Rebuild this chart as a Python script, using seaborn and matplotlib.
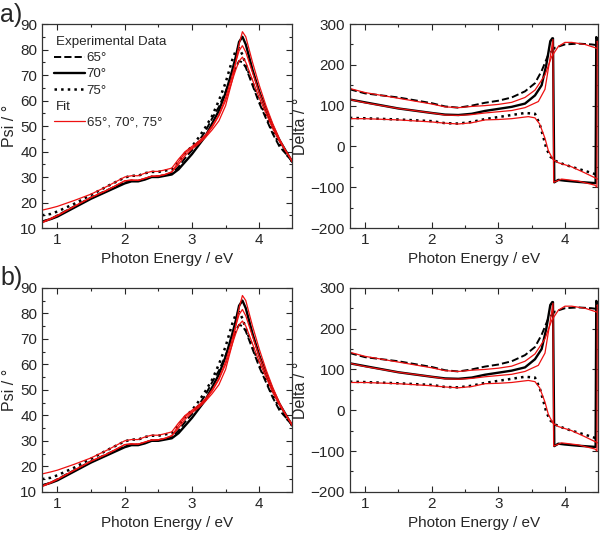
import pandas as pd
import matplotlib
matplotlib.use('Agg')
import matplotlib.pyplot as plt
from matplotlib.lines import Line2D
from matplotlib.ticker import MultipleLocator
import seaborn as sns

# Psi data (photon energy / eV vs Psi / deg)
psi_e = [0.77, 0.9, 1.0, 1.25, 1.5, 1.75, 2.0, 2.1, 2.2, 2.3, 2.4, 2.5, 2.6, 2.7, 2.8, 2.9,
         3.0, 3.1, 3.2, 3.3, 3.4, 3.5, 3.6, 3.65, 3.7, 3.75, 3.8, 3.9, 4.0, 4.1, 4.2, 4.3, 4.4, 4.49]
psi_exp65 = [12.5, 13.5, 15.0, 18.5, 22.0, 25.0, 28.0, 28.6, 28.5, 29.3, 30.2, 30.3, 30.8, 31.5, 34.0, 37.5,
             40.5, 44.0, 48.0, 53.0, 57.5, 63.5, 70.0, 73.0, 75.5, 75.0, 73.0, 66.0, 59.0, 53.0, 47.0, 42.0, 39.0, 36.0]
psi_exp70 = [12.5, 13.5, 14.5, 18.0, 21.5, 24.5, 27.5, 28.3, 28.3, 29.0, 30.0, 30.0, 30.5, 31.0, 33.0, 36.0,
             39.0, 42.5, 46.0, 51.0, 56.0, 63.0, 72.0, 77.0, 83.0, 85.0, 82.0, 72.0, 63.5, 56.5, 50.0, 44.5, 40.0, 36.0]
psi_exp75 = [15.0, 15.5, 16.5, 19.5, 23.0, 26.5, 29.8, 30.5, 30.5, 31.5, 32.0, 32.0, 32.5, 33.0, 36.0, 39.5,
             42.0, 45.5, 49.5, 54.0, 60.0, 67.0, 76.0, 79.5, 80.5, 78.0, 74.0, 67.0, 60.0, 54.0, 48.0, 43.0, 39.0, 36.0]
psi_fit65 = [12.0, 13.5, 14.8, 18.5, 22.0, 25.0, 28.5, 28.8, 28.7, 29.5, 30.3, 30.4, 31.0, 32.0, 36.0, 39.5,
             41.5, 43.5, 46.0, 49.5, 54.0, 60.0, 68.0, 72.0, 75.5, 77.0, 75.0, 68.0, 61.0, 55.0, 49.0, 44.0, 40.0, 36.5]
psi_fit70 = [12.3, 13.8, 15.0, 18.5, 22.0, 25.0, 28.5, 28.8, 28.7, 29.5, 30.3, 30.4, 31.0, 32.0, 35.0, 38.5,
             41.0, 43.0, 45.5, 48.5, 52.0, 58.0, 68.0, 75.0, 82.0, 87.0, 85.0, 75.0, 66.0, 58.0, 51.0, 45.0, 40.0, 36.0]
psi_fit75 = [17.0, 17.8, 18.5, 20.8, 23.3, 26.5, 30.0, 30.5, 30.5, 31.5, 32.2, 32.2, 32.8, 33.5, 37.0, 40.0,
             42.0, 44.0, 46.5, 50.0, 54.5, 61.0, 70.0, 75.0, 79.5, 81.5, 79.0, 71.0, 63.0, 56.5, 50.0, 44.5, 40.0, 36.0]

# Delta data (vertical jumps = phase wrap)
d65_e = [0.77, 1.0, 1.5, 2.0, 2.2, 2.4, 2.6, 2.8, 3.0, 3.2, 3.4, 3.55, 3.65, 3.75, 3.85, 4.0, 4.2, 4.4, 4.49]
d65 = [140, 130, 120, 106, 98, 95, 100, 107, 112, 120, 135, 155, 185, 225, 242, 250, 252, 250, 248]
d70_e = [0.77, 1.0, 1.5, 2.0, 2.2, 2.4, 2.6, 2.8, 3.0, 3.2, 3.4, 3.55, 3.65, 3.72, 3.78, 3.81, 3.82,
         3.84, 3.9, 4.0, 4.2, 4.46, 4.47, 4.49]
d70 = [115, 108, 93, 82, 78, 77, 80, 87, 92, 97, 105, 125, 150, 200, 258, 265, 265,
       -88, -82, -84, -87, -90, 268, 262]
d75_e = [0.77, 1.0, 1.5, 2.0, 2.2, 2.4, 2.6, 2.8, 3.0, 3.2, 3.4, 3.55, 3.62, 3.68, 3.72, 3.78, 3.85, 4.0, 4.2, 4.4, 4.49]
d75 = [70, 69, 66, 62, 57, 56, 60, 67, 72, 77, 82, 80, 55, 20, -5, -25, -35, -45, -55, -65, -70]
f65_e = [0.77, 1.0, 1.5, 2.0, 2.2, 2.4, 2.6, 2.8, 3.0, 3.2, 3.4, 3.55, 3.7, 3.8, 3.9, 4.0, 4.1, 4.3, 4.49]
f65 = [142, 132, 118, 104, 97, 95, 98, 100, 103, 108, 120, 138, 175, 220, 245, 255, 255, 250, 240]
f70_e = [0.77, 1.0, 1.5, 2.0, 2.2, 2.4, 2.6, 2.8, 3.0, 3.2, 3.4, 3.6, 3.7, 3.78, 3.82, 3.83,
         3.95, 4.2, 4.45, 4.48, 4.485, 4.49]
f70 = [115, 107, 93, 82, 77, 76, 78, 82, 85, 88, 95, 110, 140, 220, 262, -88,
       -80, -85, -95, -100, 258, 255]
f75_e = [0.77, 1.0, 1.5, 2.0, 2.2, 2.4, 2.6, 2.8, 3.0, 3.2, 3.45, 3.55, 3.62, 3.7, 3.75, 3.82, 3.9, 4.1, 4.3, 4.49]
f75 = [68, 68, 65, 60, 57, 55, 58, 65, 66, 68, 73, 70, 55, 20, -10, -32, -40, -50, -65, -80]

sns.set_style('ticks')
plt.rcParams['font.family'] = ['Liberation Sans', 'DejaVu Sans']
plt.rcParams['font.size'] = 9.5

fig = plt.figure(figsize=(6.0, 5.34), dpi=100)

black_styles = [('--', 1.4), ('-', 1.7), (':', 1.8)]


def line(ax, x, y, color, ls, lw):
    df = pd.DataFrame({'E': x, 'v': y})
    sns.lineplot(data=df, x='E', y='v', ax=ax, color=color, linestyle=ls, linewidth=lw,
                 sort=False, estimator=None)


def style_axis(ax, ylabel, ylim, major, minor):
    ax.set_xlim(0.77, 4.49)
    ax.set_ylim(*ylim)
    ax.xaxis.set_major_locator(MultipleLocator(1))
    ax.xaxis.set_minor_locator(MultipleLocator(0.5))
    ax.yaxis.set_major_locator(MultipleLocator(major))
    ax.yaxis.set_minor_locator(MultipleLocator(minor))
    ax.tick_params(which='both', direction='in', top=True, right=True, width=0.8, labelsize=11)
    ax.tick_params(which='major', length=4)
    ax.tick_params(which='minor', length=2.5)
    for s in ax.spines.values():
        s.set_color('#333333')
        s.set_linewidth(0.9)
    ax.set_xlabel('Photon Energy / eV', fontsize=11)
    ax.set_ylabel(ylabel, fontsize=11.5)


for row, (bottom, tag) in enumerate([(0.573, 'a)'), (0.079, 'b)')]):
    ax_psi = fig.add_axes([0.07, bottom, 0.417, 0.382])
    ax_del = fig.add_axes([0.583, bottom, 0.413, 0.382])

    for y, (ls, lw) in zip([psi_exp65, psi_exp70, psi_exp75], black_styles):
        line(ax_psi, psi_e, y, 'black', ls, lw)
    for y in [psi_fit65, psi_fit70, psi_fit75]:
        line(ax_psi, psi_e, y, '#ee1111', '-', 0.9)

    for (x, y), (ls, lw) in zip([(d65_e, d65), (d70_e, d70), (d75_e, d75)], black_styles):
        line(ax_del, x, y, 'black', ls, lw)
    for x, y in [(f65_e, f65), (f70_e, f70), (f75_e, f75)]:
        line(ax_del, x, y, '#ee1111', '-', 0.9)

    style_axis(ax_psi, 'Psi / °', (10, 90), 10, 5)
    style_axis(ax_del, 'Delta / °', (-200, 300), 100, 50)
    ax_psi.yaxis.labelpad = 2
    ax_del.yaxis.labelpad = 2

    fig.text(0.0, bottom + 0.382 + 0.04, tag, fontsize=18, ha='left', va='top')

    if row == 0:
        blank = Line2D([], [], linestyle='none')
        handles = [blank,
                   Line2D([], [], color='black', linestyle='--', linewidth=1.4),
                   Line2D([], [], color='black', linestyle='-', linewidth=1.7),
                   Line2D([], [], color='black', linestyle=':', linewidth=1.8),
                   blank,
                   Line2D([], [], color='#ee1111', linewidth=0.9)]
        labels = ['Experimental Data', '65°', '70°', '75°', 'Fit', '65°, 70°, 75°']
        leg = ax_psi.legend(handles, labels, loc='upper left', frameon=False, fontsize=9.6,
                            handlelength=2.3, handletextpad=0.15, labelspacing=0.28,
                            borderaxespad=0.5)
        # shift header texts to the left edge of the handles
        for i in (0, 4):
            leg.get_texts()[i].set_position((-31, 0))

fig.savefig('out.png', dpi=100)
